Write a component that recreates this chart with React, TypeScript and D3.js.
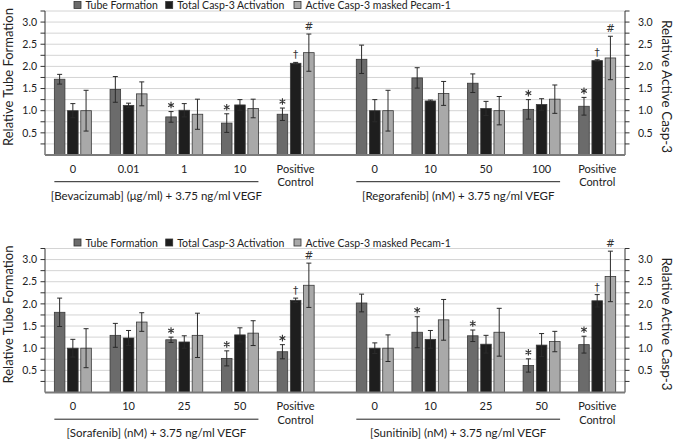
import React from "react";
import * as d3 from "d3";

const seriesKeys = ["tube", "casp", "pecam"];
const seriesNames = ["Tube Formation", "Total Casp-3 Activation", "Active Casp-3 masked Pecam-1"];
const seriesColors = ["#6b6b6b", "#1e1e1e", "#a9a9a9"];

// Bevacizumab
const bevCategories = ["0", "0.01", "1", "10", "Positive Control"];
const bevTube = [1.71, 1.48, 0.86, 0.72, 0.92];
const bevTubeErr = [0.11, 0.29, 0.12, 0.21, 0.14];
const bevCasp = [1.0, 1.12, 1.01, 1.13, 2.07];
const bevCaspErr = [0.16, 0.05, 0.15, 0.12, 0.02];
const bevPecam = [1.0, 1.38, 0.92, 1.05, 2.31];
const bevPecamErr = [0.46, 0.27, 0.34, 0.21, 0.42];
const bevStars = [2, 3, 4];

// Regorafenib
const regoCategories = ["0", "10", "50", "100", "Positive Control"];
const regoTube = [2.16, 1.74, 1.62, 1.03, 1.1];
const regoTubeErr = [0.32, 0.23, 0.21, 0.22, 0.2];
const regoCasp = [1.0, 1.22, 1.05, 1.14, 2.13];
const regoCaspErr = [0.25, 0.02, 0.16, 0.13, 0.02];
const regoPecam = [1.0, 1.39, 1.0, 1.26, 2.19];
const regoPecamErr = [0.46, 0.27, 0.32, 0.32, 0.49];
const regoStars = [3, 4];

// Sorafenib
const soraCategories = ["0", "10", "25", "50", "Positive Control"];
const soraTube = [1.81, 1.29, 1.19, 0.77, 0.92];
const soraTubeErr = [0.32, 0.27, 0.06, 0.17, 0.16];
const soraCasp = [1.0, 1.23, 1.14, 1.3, 2.08];
const soraCaspErr = [0.2, 0.17, 0.14, 0.16, 0.05];
const soraPecam = [1.0, 1.59, 1.29, 1.34, 2.42];
const soraPecamErr = [0.44, 0.21, 0.5, 0.28, 0.5];
const soraStars = [2, 3, 4];

// Sunitinib
const suniCategories = ["0", "10", "25", "50", "Positive Control"];
const suniTube = [2.02, 1.36, 1.28, 0.61, 1.08];
const suniTubeErr = [0.2, 0.35, 0.13, 0.15, 0.19];
const suniCasp = [1.0, 1.2, 1.09, 1.07, 2.07];
const suniCaspErr = [0.12, 0.2, 0.2, 0.26, 0.14];
const suniPecam = [1.0, 1.64, 1.36, 1.15, 2.62];
const suniPecamErr = [0.3, 0.46, 0.54, 0.23, 0.57];
const suniStars = [1, 2, 3, 4];

const groupLabels = [
  "[Bevacizumab] (\u03bcg/ml) + 3.75 ng/ml VEGF",
  "[Regorafenib] (nM) + 3.75 ng/ml VEGF",
  "[Sorafenib] (nM) + 3.75 ng/ml VEGF",
  "[Sunitinib] (nM) + 3.75 ng/ml VEGF",
];

const yTicks = d3.range(1, 14).map((i) => i * 0.25);

const FONT = "Lato, 'Open Sans', sans-serif";
const SYM_FONT = "'DejaVu Sans', sans-serif";
const AXIS_L = 45;
const AXIS_R = 625;

const starPath = d3.symbol().type(d3.symbolAsterisk).size(30)() as string;

type Group = {
  cats: string[];
  vals: number[][];
  errs: number[][];
  stars: number[];
  label: string;
  range: [number, number];
};

function makeGroup(cats, t, te, c, ce, p, pe, stars, label, range): Group {
  return { cats, vals: [t, c, p], errs: [te, ce, pe], stars, label, range };
}

const rows = [
  {
    dy: 0,
    groups: [
      makeGroup(bevCategories, bevTube, bevTubeErr, bevCasp, bevCaspErr, bevPecam, bevPecamErr, bevStars, groupLabels[0], [AXIS_L, 323.5]),
      makeGroup(regoCategories, regoTube, regoTubeErr, regoCasp, regoCaspErr, regoPecam, regoPecamErr, regoStars, groupLabels[1], [347, AXIS_R]),
    ],
  },
  {
    dy: 237.5,
    groups: [
      makeGroup(soraCategories, soraTube, soraTubeErr, soraCasp, soraCaspErr, soraPecam, soraPecamErr, soraStars, groupLabels[2], [AXIS_L, 323.5]),
      makeGroup(suniCategories, suniTube, suniTubeErr, suniCasp, suniCaspErr, suniPecam, suniPecamErr, suniStars, groupLabels[3], [347, AXIS_R]),
    ],
  },
];

const inner = d3.scaleBand<string>().domain(seriesKeys).range([-18.5, 18.5]).paddingInner(0.2);

function GroupMarks({ g, y }: { g: Group; y: d3.ScaleLinear<number, number> }) {
  const x = d3.scaleBand<string>().domain(g.cats).range(g.range);
  const bw = inner.bandwidth();
  const centers = g.cats.map((c) => (x(c) as number) + x.bandwidth() / 2);
  const y0 = y(0);
  const lastCat = g.cats.length - 1;
  const ulStart = centers[0] + (inner(seriesKeys[0]) as number);
  const ulEnd = centers[lastCat - 1] + (inner(seriesKeys[2]) as number) + bw;
  return (
    <g>
      {g.cats.map((cat, ci) => (
        <g key={cat}>
          {seriesKeys.map((k, si) => {
            const v = g.vals[si][ci];
            const e = g.errs[si][ci];
            const bx = centers[ci] + (inner(k) as number);
            const cx = bx + bw / 2;
            return (
              <g key={k}>
                <rect x={bx} y={y(v)} width={bw} height={y0 - y(v)} fill={seriesColors[si]} stroke="#3a3a3a" strokeWidth={0.8} />
                <line x1={cx} x2={cx} y1={y(v + e)} y2={y(v - e)} stroke="#2a2a2a" strokeWidth={1} />
                <line x1={cx - 2.5} x2={cx + 2.5} y1={y(v + e)} y2={y(v + e)} stroke="#2a2a2a" strokeWidth={1} />
                <line x1={cx - 2.5} x2={cx + 2.5} y1={y(v - e)} y2={y(v - e)} stroke="#2a2a2a" strokeWidth={1} />
                {si === 0 && g.stars.includes(ci) && (
                  <path d={starPath} transform={`translate(${cx},${y(v + e) - 6.5})`} fill="none" stroke="#333" strokeWidth={1.1} />
                )}
                {si === 1 && ci === lastCat && (
                  <text x={cx} y={y(v + e) - 4} textAnchor="middle" fontSize={10.5} fill="#333" fontFamily={SYM_FONT}>{"\u2020"}</text>
                )}
                {si === 2 && ci === lastCat && (
                  <text x={cx} y={y(v + e) - 4} textAnchor="middle" fontSize={10.5} fill="#333" fontFamily={SYM_FONT}>#</text>
                )}
              </g>
            );
          })}
          {ci < lastCat ? (
            <text x={centers[ci]} y={y0 + 17.5} textAnchor="middle" fontSize={11} fill="#222" fontFamily={FONT}>{cat}</text>
          ) : (
            <text x={centers[ci]} y={y0 + 17.5} textAnchor="middle" fontSize={11} fill="#222" fontFamily={FONT}>
              <tspan x={centers[ci]}>{cat.split(" ")[0]}</tspan>
              <tspan x={centers[ci]} dy={13.5}>{cat.split(" ")[1]}</tspan>
            </text>
          )}
        </g>
      ))}
      <line x1={ulStart} x2={ulEnd} y1={y0 + 26.7} y2={y0 + 26.7} stroke="#222" strokeWidth={1} />
      <text x={(ulStart + ulEnd) / 2} y={y0 + 44.5} textAnchor="middle" fontSize={11.5} fill="#222" fontFamily={FONT}>{g.label}</text>
    </g>
  );
}

function Row({ dy, groups }: { dy: number; groups: Group[] }) {
  const y = d3.scaleLinear().domain([0, 3.25]).range([155 + dy, 11 + dy]);
  const legendX = [74, 165.7, 294];
  return (
    <g>
      {yTicks.map((t) => (
        <line key={"g" + t} x1={AXIS_L} x2={AXIS_R} y1={y(t)} y2={y(t)} stroke="#d4d4d4" strokeWidth={1} />
      ))}
      {/* left axis */}
      <line x1={AXIS_L} x2={AXIS_L} y1={y(0)} y2={y(3.25)} stroke="#333" strokeWidth={1} />
      {yTicks.map((t) => (
        <g key={"l" + t}>
          <line x1={AXIS_L - 4.5} x2={AXIS_L} y1={y(t)} y2={y(t)} stroke="#333" strokeWidth={1} />
          {Math.abs((t * 2) % 1) < 1e-9 && (
            <text x={AXIS_L - 8} y={y(t)} dy="0.35em" textAnchor="end" fontSize={10.5} fill="#222" fontFamily={FONT}>{d3.format(".1f")(t)}</text>
          )}
        </g>
      ))}
      {/* right axis */}
      <line x1={AXIS_R} x2={AXIS_R} y1={y(0)} y2={y(3.25)} stroke="#333" strokeWidth={1} />
      {yTicks.map((t) => (
        <g key={"r" + t}>
          <line x1={AXIS_R} x2={AXIS_R + 4.5} y1={y(t)} y2={y(t)} stroke="#333" strokeWidth={1} />
          {Math.abs((t * 2) % 1) < 1e-9 && (
            <text x={AXIS_R + 13} y={y(t)} dy="0.35em" textAnchor="start" fontSize={10.5} fill="#222" fontFamily={FONT}>{d3.format(".1f")(t)}</text>
          )}
        </g>
      ))}
      <text transform={`translate(8,${77 + dy}) rotate(-90)`} textAnchor="middle" dominantBaseline="central" fontSize={13} fill="#222" fontFamily={FONT}>Relative Tube Formation</text>
      <text transform={`translate(667,${86.5 + dy}) rotate(90)`} textAnchor="middle" dominantBaseline="central" fontSize={13.5} fill="#222" fontFamily={FONT}>Relative Active Casp-3</text>
      {groups.map((g, i) => (
        <GroupMarks key={i} g={g} y={y} />
      ))}
      <line x1={AXIS_L} x2={AXIS_R} y1={y(0)} y2={y(0)} stroke="#7a7a7a" strokeWidth={2} />
      {seriesNames.map((n, i) => (
        <g key={n}>
          <rect x={legendX[i]} y={1.5 + dy} width={7} height={7} fill={seriesColors[i]} stroke="#333" strokeWidth={0.8} />
          <text x={legendX[i] + 11.5} y={9.2 + dy} fontSize={10.5} fill="#222" fontFamily={FONT}>{n}</text>
        </g>
      ))}
    </g>
  );
}

export default function App() {
  return (
    <svg width={678} height={440} style={{ position: "absolute", left: 0, top: 0, background: "#fff" }}>
      <rect width={678} height={440} fill="#fff" />
      {rows.map((r, i) => (
        <Row key={i} dy={r.dy} groups={r.groups} />
      ))}
    </svg>
  );
}
